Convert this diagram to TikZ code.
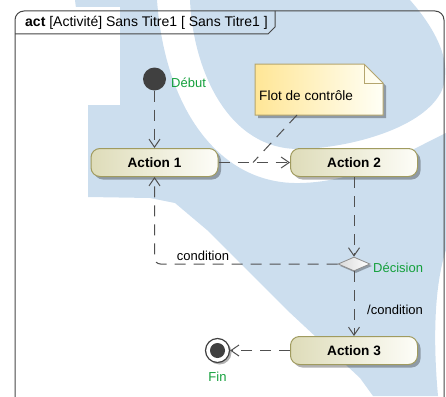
\documentclass[tikz,border=0pt]{standalone}
\usepackage{fontspec}
\setmainfont{Liberation Sans}
\usetikzlibrary{arrows.meta,shapes.geometric,shadows,calc}
\definecolor{wm}{RGB}{204,222,238}
\definecolor{lbl}{RGB}{20,160,60}
\definecolor{edgec}{RGB}{80,80,80}
\definecolor{framec}{RGB}{70,70,70}
\definecolor{actL}{RGB}{222,220,185}
\definecolor{actR}{RGB}{253,253,248}
\definecolor{actB}{RGB}{160,155,95}
\definecolor{noteL}{RGB}{255,230,150}
\definecolor{noteR}{RGB}{255,255,246}
\definecolor{noteB}{RGB}{180,165,110}
\definecolor{dark}{RGB}{64,64,64}
\tikzset{
  action/.style={rounded corners=9pt, draw=actB, line width=1pt, left color=actL, right color=actR,
    minimum width=127pt, minimum height=28pt, inner sep=0pt, font=\fontsize{13.6}{16}\selectfont\bfseries,
    drop shadow={shadow xshift=3pt, shadow yshift=-3pt, fill=black, opacity=0.3}},
  decision/.style={diamond, draw=black!45, line width=0.8pt, left color=black!15, right color=white,
    minimum width=32pt, minimum height=14pt, inner sep=0pt,
    drop shadow={shadow xshift=2pt, shadow yshift=-2pt, fill=black, opacity=0.3}},
  initial/.style={circle, fill=dark, minimum size=23pt, inner sep=0pt},
  final/.style={circle, draw=dark, line width=1.2pt, fill=white, minimum size=24pt, inner sep=0pt,
    drop shadow={shadow xshift=2pt, shadow yshift=-2pt, fill=black, opacity=0.3}},
  flow/.style={draw=edgec, line width=1pt, dash pattern=on 11pt off 8pt,
    -{Straight Barb[length=8pt,width=11pt,line width=1pt]}},
  anchorline/.style={draw=edgec, line width=1pt, dash pattern=on 11pt off 8pt},
  lab/.style={text=lbl, font=\fontsize{13}{15}\selectfont, inner sep=0pt},
  guard/.style={text=black, font=\fontsize{13}{15}\selectfont, inner sep=0pt},
}
\begin{document}
\begin{tikzpicture}[x=1pt,y=-1pt,font=\fontsize{13.6}{16}\selectfont]
\useasboundingbox (0,0) rectangle (446,396);
\begin{scope}
\clip (0,0) rectangle (446,396);
% watermark
\fill[wm] (75,0) -- (157,0) .. controls (165,110) and (220,185) .. (300,183)
  .. controls (360,182) and (410,150) .. (446,133) -- (446,250)
  .. controls (436,280) and (432,330) .. (438,396) -- (373,396) -- (360,378) -- (287,310)
  -- (207,230) -- (175,203) -- (150,198) -- (88,197) -- (88,105) -- cycle;
\fill[white] (0,7) rectangle (120,105);
\fill[wm] (190,0) -- (410,0) .. controls (432,25) and (454,60) .. (442,90)
  .. controls (425,128) and (350,148) .. (300,149) .. controls (228,150) and (193,70) .. (190,0) -- cycle;
% frame
\draw[framec, line width=1pt, rounded corners=9pt] (15,400) -- (15,11) -- (444,11) -- (444,400);
\draw[framec, line width=1pt] (15,34) -- (268,34) -- (275,27) -- (275,11);
\end{scope}
\node[anchor=base west, inner sep=0pt, font=\fontsize{14}{16}\selectfont] (title) at (25,27) {\textbf{act} [Activité] Sans Titre1 [ Sans Titre1 ]};
% note
\fill[black, opacity=0.3] (258,67) -- (367,67) -- (386,86) -- (386,118) -- (258,118) -- cycle;
\path[left color=noteL, right color=noteR, draw=noteB, line width=1pt]
  (255,64) -- (364,64) -- (383,83) -- (383,115) -- (255,115) -- cycle;
\draw[noteB, line width=1pt] (364,64) -- (364,83) -- (383,83);
\node[anchor=west, inner sep=0pt] (note) at (259,96) {Flot de contrôle};
\coordinate (notebot) at (297,115);
% nodes
\node[initial] (start) at (154.5,79) {};
\node[lab, anchor=west] (ldebut) at (171,83) {Début};
\node[action] (a1) at (154.5,162.5) {Action 1};
\node[action] (a2) at (354,162.5) {Action 2};
\node[decision] (dec) at (354,264) {};
\node[lab, anchor=west] (ldec) at (373,268) {Décision};
\node[action] (a3) at (354,350.5) {Action 3};
\node[final] (fin) at (217.5,350.5) {};
\fill[dark] (fin.center) circle (7.5pt);
\node[lab] (lfin) at (217.5,377) {Fin};
\coordinate (nc) at (253,162.5);
% connectors
\draw[flow] (start) -- (a1);
\draw[flow] (a1) -- (a2);
\draw[anchorline] (notebot) -- (nc);
\draw[flow] (a2) -- (dec);
\draw[flow, rounded corners=6pt] (dec.west) -| (a1.south);
\node[guard] (lcond) at (203,256) {condition};
\draw[flow] (dec) -- (a3);
\node[guard, anchor=west] (lncond) at (367,310) {/condition};
\draw[flow] (a3) -- (fin);
\end{tikzpicture}
\end{document}
